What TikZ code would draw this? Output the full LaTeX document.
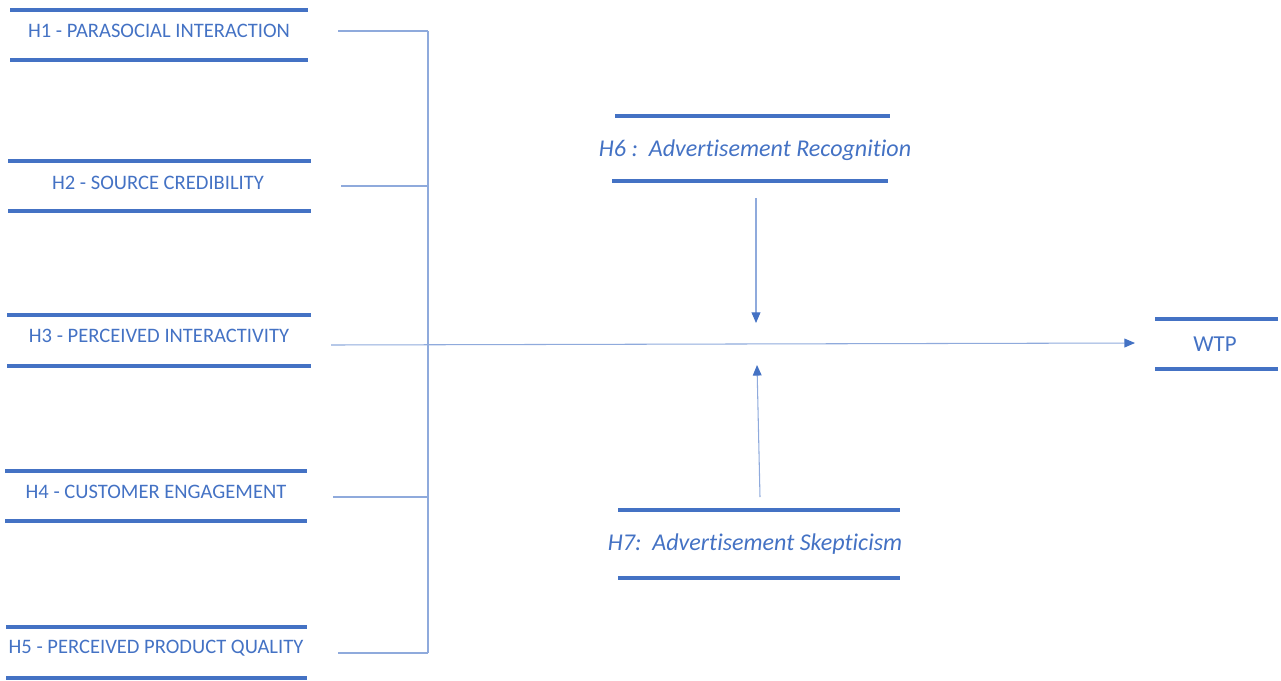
\documentclass[tikz,border=0pt]{standalone}
\usepackage{fontspec}
\setmainfont{Carlito}[Ligatures=NoCommon]
\usetikzlibrary{arrows.meta,positioning,calc}
\definecolor{wordblue}{HTML}{4472C4}
\definecolor{linkblue}{HTML}{8FAADC}

\begin{document}
\begin{tikzpicture}[
    x=0.02cm, y=-0.02cm,
    factor/.style={font=\fontsize{11.7}{13}\selectfont, text=wordblue, inner sep=0pt},
    moderator/.style={font=\fontsize{13.7}{15}\selectfont\itshape, text=wordblue, inner sep=0pt},
    outcome/.style={font=\fontsize{13}{15}\selectfont, text=wordblue, inner sep=0pt},
    bar/.style={draw=wordblue, line width=2.2pt},
    link/.style={draw=linkblue, line width=0.6pt},
    >={Triangle[length=6pt,width=5pt,color=wordblue]}
]
    \useasboundingbox (0,0) rectangle (1281,680);

    % Predictors
    \node[factor] (h1) at (159,31) {H1 - PARASOCIAL INTERACTION};
    \node[factor] (h2) at (158,183) {H2 - SOURCE CREDIBILITY};
    \node[factor] (h3) at (159,336) {H3 - PERCEIVED INTERACTIVITY};
    \node[factor] (h4) at (156,492) {H4 - CUSTOMER ENGAGEMENT};
    \node[factor] (h5) at (156,648) {H5 - PERCEIVED PRODUCT QUALITY};

    % Moderators and outcome
    \node[moderator] (h6) at (755,150) {H6 :\ \ Advertisement Recognition};
    \node[moderator] (h7) at (755,544) {H7:\ \ Advertisement Skepticism};
    \node[outcome] (wtp) at (1215,344) {WTP};

    % Bars above and below
    \draw[bar] ($(h1)+(-149,-21)$) -- ++(298,0);
    \draw[bar] ($(h1)+(-149,29)$) -- ++(298,0);
    \draw[bar] ($(h2)+(-150,-22)$) -- ++(303,0);
    \draw[bar] ($(h2)+(-150,28)$) -- ++(303,0);
    \draw[bar] ($(h3)+(-152,-21)$) -- ++(304,0);
    \draw[bar] ($(h3)+(-152,30)$) -- ++(304,0);
    \draw[bar] ($(h4)+(-151,-21)$) -- ++(302,0);
    \draw[bar] ($(h4)+(-151,29)$) -- ++(302,0);
    \draw[bar] ($(h5)+(-150,-21)$) -- ++(301,0);
    \draw[bar] ($(h5)+(-150,30)$) -- ++(301,0);
    \draw[bar] ($(h6)+(-140,-34)$) -- ++(275,0);
    \draw[bar] ($(h6)+(-143,31)$) -- ++(276,0);
    \draw[bar] ($(h7)+(-137,-34)$) -- ++(282,0);
    \draw[bar] ($(h7)+(-137,34)$) -- ++(282,0);
    \draw[bar] ($(wtp)+(-60,-25)$) -- ++(123,0);
    \draw[bar] ($(wtp)+(-60,25)$) -- ++(123,0);

    % Bus
    \coordinate (b1) at (428,31);
    \coordinate (b2) at (428,186);
    \coordinate (b4) at (428,497);
    \coordinate (b5) at (428,653);
    \coordinate (m) at (757,344);

    \draw[link] ($(h1)+(179,0)$) -- (b1);
    \draw[link] ($(h2)+(183,3)$) -- (b2);
    \draw[link] ($(h4)+(177,5)$) -- (b4);
    \draw[link] ($(h5)+(182,5)$) -- (b5);
    \draw[link] (b1) -- (b5);
    \draw[link, ->] ($(h3)+(172,9)$) -- ($(wtp)+(-80,-1)$);

    % Moderating effects
    \draw[link, ->] ($(h6)+(1,48)$) -- ($(m)+(-1,-21)$);
    \draw[link, ->] ($(h7)+(5,-47)$) -- ($(m)+(0,21)$);

\end{tikzpicture}
\end{document}
